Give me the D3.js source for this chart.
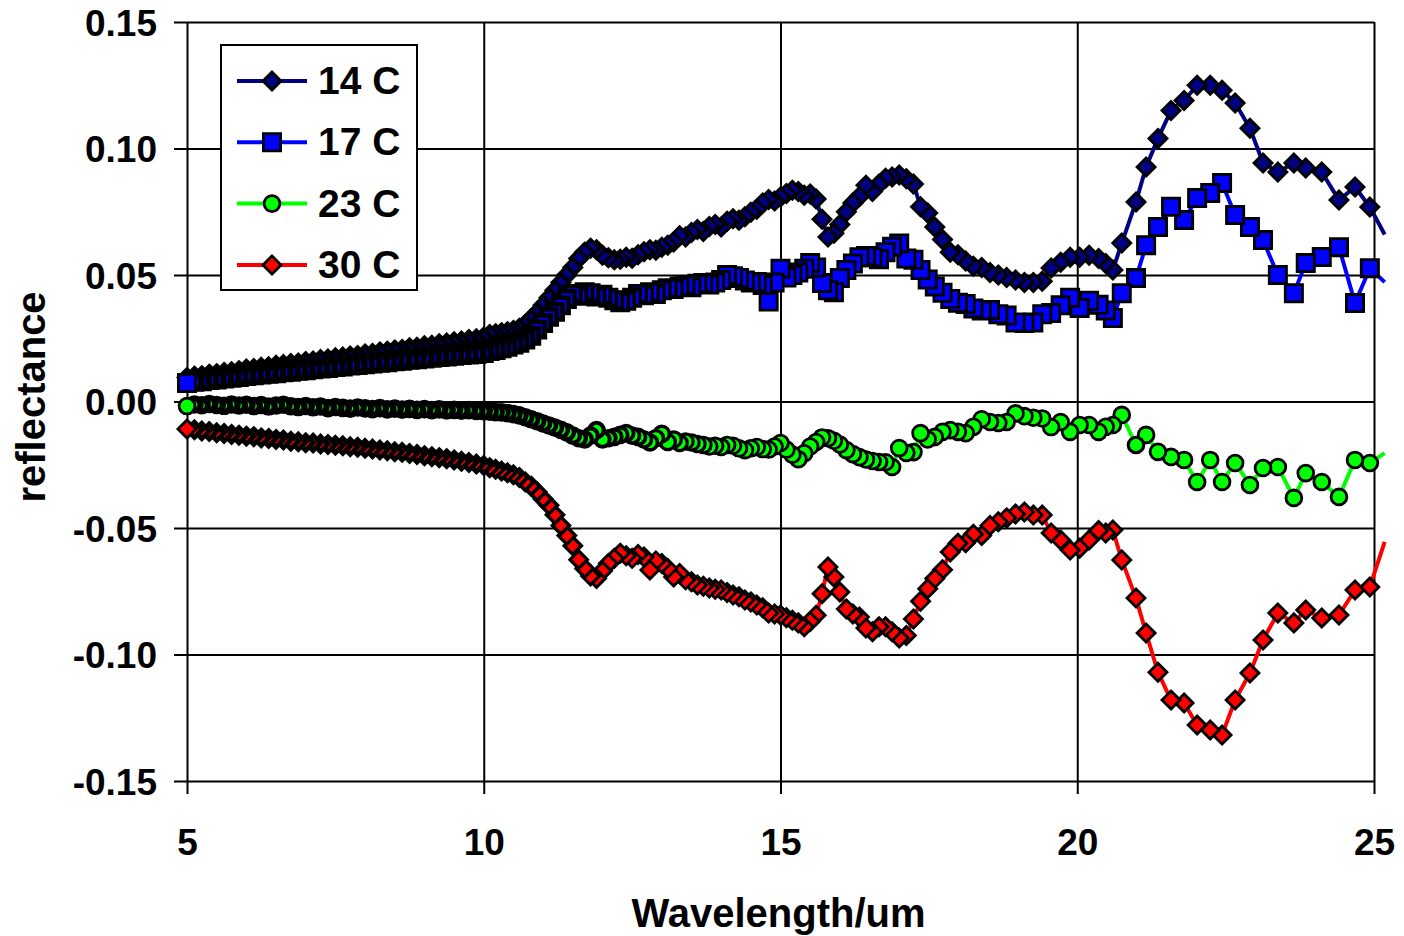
<!DOCTYPE html>
<html>
<head>
<meta charset="utf-8">
<script src="https://cdn.jsdelivr.net/npm/d3@7"></script>
<style>
  body { margin: 0; background: #fff; }
  text { font-family: "Liberation Sans", Arial, sans-serif; font-weight: bold; }
</style>
</head>
<body>
<div id="chart"></div>
<script>
// wavelength grid (um), shared by all four spectra
const wavelength = [
  5, 5.125, 5.25, 5.375, 5.5, 5.625, 5.75, 5.875, 6,
  6.125, 6.25, 6.375, 6.5, 6.625, 6.75, 6.875, 7,
  7.125, 7.25, 7.375, 7.5, 7.625, 7.75, 7.875, 8,
  8.125, 8.25, 8.375, 8.5, 8.625, 8.75, 8.875, 9,
  9.125, 9.25, 9.375, 9.5, 9.625, 9.75, 9.875, 10,
  10.1, 10.2, 10.3, 10.4, 10.5, 10.6, 10.7, 10.8, 10.9, 11.0,
  11.1, 11.2, 11.3, 11.4, 11.5, 11.6, 11.7, 11.8, 11.9, 12.0,
  12.1, 12.2, 12.3, 12.4, 12.5, 12.6, 12.7, 12.8, 12.9, 13.0,
  13.1, 13.2, 13.3, 13.4, 13.5, 13.6, 13.7, 13.8, 13.9, 14.0,
  14.1, 14.2, 14.3, 14.4, 14.5, 14.6, 14.7, 14.8, 14.9, 15.0,
  15.1, 15.2, 15.3, 15.4, 15.5, 15.6, 15.7, 15.8, 15.9, 16.0,
  16.11, 16.22, 16.33, 16.44, 16.55, 16.66, 16.77, 16.88, 17.0,
  17.12, 17.24, 17.36, 17.48, 17.6, 17.73, 17.86, 17.99, 18.12, 18.25,
  18.39, 18.53, 18.67, 18.81, 18.96, 19.11, 19.26, 19.41, 19.56,
  19.72, 19.88, 20.04, 20.2, 20.36, 20.48,
  20.6, 20.75, 20.99, 21.16, 21.36, 21.58, 21.8, 22.02, 22.24, 22.44,
  22.66, 22.91, 23.13, 23.38, 23.65, 23.85, 24.12, 24.41, 24.68, 24.93, 25.18
];

const r14 = [
  0.0095, 0.0100, 0.0102, 0.0108, 0.0110, 0.0115, 0.0118, 0.0122, 0.0128,
  0.0130, 0.0135, 0.0137, 0.0143, 0.0146, 0.0150, 0.0152, 0.0158,
  0.0160, 0.0166, 0.0168, 0.0173, 0.0176, 0.0180, 0.0182, 0.0188,
  0.0190, 0.0196, 0.0199, 0.0204, 0.0206, 0.0212, 0.0214, 0.0220,
  0.0222, 0.0228, 0.0231, 0.0236, 0.0239, 0.0245, 0.0248, 0.0255,
  0.0265, 0.0268, 0.0272, 0.0276, 0.0281, 0.0290, 0.0305, 0.0328, 0.0352, 0.0380,
  0.0410, 0.0440, 0.0470, 0.0500, 0.0530, 0.0565, 0.0590, 0.0606, 0.0600, 0.0578,
  0.0568, 0.0560, 0.0562, 0.0570, 0.0566, 0.0580, 0.0592, 0.0600, 0.0598, 0.0610,
  0.0618, 0.0630, 0.0655, 0.0650, 0.0668, 0.0680, 0.0672, 0.0692, 0.0700, 0.0690,
  0.0712, 0.0722, 0.0716, 0.0730, 0.0748, 0.0760, 0.0785, 0.0798, 0.0792, 0.0808,
  0.0822, 0.0835, 0.0830, 0.0815, 0.0820, 0.0800, 0.0720, 0.0650, 0.0665, 0.0700,
  0.0750, 0.0785, 0.0810, 0.0855, 0.0830, 0.0860, 0.0882, 0.0887, 0.0895,
  0.0880, 0.0860, 0.0770, 0.0745, 0.0690, 0.0640, 0.0590, 0.0580, 0.0555, 0.0535,
  0.0530, 0.0510, 0.0500, 0.0490, 0.0480, 0.0470, 0.0470, 0.0475, 0.0528,
  0.0550, 0.0570, 0.0570, 0.0578, 0.0565, 0.0545,
  0.0520, 0.0626, 0.0789, 0.0927, 0.1040, 0.1150, 0.1190, 0.1250, 0.1250, 0.1230,
  0.1180, 0.1080, 0.0943, 0.0907, 0.0943, 0.0923, 0.0907, 0.0796, 0.0848, 0.0769, 0.0660
];

const r17 = [
  0.0073, 0.0078, 0.0080, 0.0085, 0.0087, 0.0091, 0.0094, 0.0097, 0.0101,
  0.0104, 0.0107, 0.0110, 0.0112, 0.0116, 0.0118, 0.0122, 0.0124,
  0.0127, 0.0130, 0.0132, 0.0136, 0.0138, 0.0142, 0.0144, 0.0147,
  0.0150, 0.0153, 0.0155, 0.0159, 0.0161, 0.0165, 0.0167, 0.0170,
  0.0173, 0.0176, 0.0178, 0.0181, 0.0184, 0.0186, 0.0188, 0.0192,
  0.0200, 0.0204, 0.0210, 0.0216, 0.0225, 0.0232, 0.0245, 0.0260, 0.0285, 0.0310,
  0.0335, 0.0355, 0.0380, 0.0405, 0.0425, 0.0418, 0.0432, 0.0428, 0.0415, 0.0422,
  0.0410, 0.0400, 0.0392, 0.0398, 0.0410, 0.0425, 0.0420, 0.0432, 0.0425, 0.0440,
  0.0448, 0.0445, 0.0455, 0.0460, 0.0452, 0.0465, 0.0468, 0.0462, 0.0470, 0.0480,
  0.0500, 0.0495, 0.0488, 0.0478, 0.0470, 0.0472, 0.0460, 0.0395, 0.0470, 0.0525,
  0.0490, 0.0500, 0.0510, 0.0525, 0.0547, 0.0530, 0.0468, 0.0440, 0.0432, 0.0488,
  0.0520, 0.0545, 0.0570, 0.0575, 0.0570, 0.0562, 0.0590, 0.0612, 0.0625,
  0.0565, 0.0560, 0.0520, 0.0482, 0.0455, 0.0430, 0.0405, 0.0390, 0.0385, 0.0368,
  0.0360, 0.0362, 0.0345, 0.0340, 0.0312, 0.0310, 0.0312, 0.0345, 0.0350,
  0.0380, 0.0410, 0.0370, 0.0398, 0.0382, 0.0360,
  0.0330, 0.0428, 0.0488, 0.0618, 0.0690, 0.0770, 0.0717, 0.0804, 0.0824, 0.0864,
  0.0737, 0.0690, 0.0638, 0.0500, 0.0428, 0.0547, 0.0571, 0.0610, 0.0389, 0.0527, 0.0472
];

const r23 = [
  -0.0018, -0.0012, -0.0015, -0.0010, -0.0014, -0.0017, -0.0012, -0.0016, -0.0013,
  -0.0018, -0.0014, -0.0020, -0.0016, -0.0013, -0.0019, -0.0022, -0.0018,
  -0.0023, -0.0020, -0.0026, -0.0022, -0.0025, -0.0028, -0.0024, -0.0027,
  -0.0030, -0.0026, -0.0031, -0.0028, -0.0032, -0.0029, -0.0033, -0.0030,
  -0.0034, -0.0031, -0.0035, -0.0033, -0.0036, -0.0034, -0.0037, -0.0038,
  -0.0040, -0.0042, -0.0043, -0.0046, -0.0050, -0.0055, -0.0062, -0.0070, -0.0078, -0.0087,
  -0.0095, -0.0103, -0.0112, -0.0122, -0.0135, -0.0145, -0.0150, -0.0135, -0.0113, -0.0150,
  -0.0145, -0.0140, -0.0132, -0.0125, -0.0135, -0.0140, -0.0150, -0.0162, -0.0145, -0.0128,
  -0.0160, -0.0150, -0.0164, -0.0158, -0.0162, -0.0168, -0.0172, -0.0178, -0.0175, -0.0180,
  -0.0172, -0.0175, -0.0185, -0.0192, -0.0185, -0.0180, -0.0188, -0.0190, -0.0178, -0.0164,
  -0.0190, -0.0210, -0.0228, -0.0205, -0.0178, -0.0160, -0.0142, -0.0145, -0.0155, -0.0170,
  -0.0192, -0.0208, -0.0220, -0.0229, -0.0235, -0.0239, -0.0240, -0.0259, -0.0184,
  -0.0203, -0.0200, -0.0125, -0.0150, -0.0140, -0.0120, -0.0113, -0.0120, -0.0125, -0.0100,
  -0.0070, -0.0081, -0.0085, -0.0081, -0.0047, -0.0058, -0.0064, -0.0067, -0.0101,
  -0.0081, -0.0120, -0.0093, -0.0093, -0.0120, -0.0100,
  -0.0093, -0.0053, -0.0172, -0.0132, -0.0199, -0.0219, -0.0231, -0.0318, -0.0231, -0.0318,
  -0.0243, -0.0330, -0.0263, -0.0259, -0.0381, -0.0283, -0.0318, -0.0377, -0.0231, -0.0243, -0.0204
];

const r30 = [
  -0.0109, -0.0112, -0.0117, -0.0119, -0.0124, -0.0126, -0.0130, -0.0133, -0.0137,
  -0.0139, -0.0144, -0.0146, -0.0150, -0.0152, -0.0157, -0.0159, -0.0163,
  -0.0164, -0.0168, -0.0170, -0.0173, -0.0175, -0.0179, -0.0181, -0.0185,
  -0.0188, -0.0192, -0.0195, -0.0199, -0.0201, -0.0206, -0.0209, -0.0214,
  -0.0218, -0.0222, -0.0226, -0.0231, -0.0236, -0.0241, -0.0247, -0.0253,
  -0.0262, -0.0268, -0.0275, -0.0282, -0.0290, -0.0300, -0.0318, -0.0335, -0.0358, -0.0385,
  -0.0410, -0.0448, -0.0490, -0.0530, -0.0570, -0.0625, -0.0660, -0.0690, -0.0700, -0.0670,
  -0.0640, -0.0620, -0.0600, -0.0610, -0.0620, -0.0605, -0.0615, -0.0666, -0.0630, -0.0640,
  -0.0660, -0.0694, -0.0680, -0.0705, -0.0712, -0.0725, -0.0730, -0.0737, -0.0742, -0.0745,
  -0.0755, -0.0765, -0.0772, -0.0785, -0.0792, -0.0804, -0.0815, -0.0836, -0.0840, -0.0844,
  -0.0855, -0.0865, -0.0875, -0.0890, -0.0870, -0.0845, -0.0760, -0.0654, -0.0694, -0.0753,
  -0.0820, -0.0840, -0.0852, -0.0895, -0.0910, -0.0890, -0.0890, -0.0910, -0.0935,
  -0.0925, -0.0860, -0.0790, -0.0740, -0.0700, -0.0665, -0.0595, -0.0560, -0.0558, -0.0525,
  -0.0530, -0.0490, -0.0475, -0.0460, -0.0445, -0.0437, -0.0449, -0.0449, -0.0520,
  -0.0547, -0.0587, -0.0580, -0.0547, -0.0510, -0.0520,
  -0.0508, -0.0626, -0.0777, -0.0915, -0.1070, -0.1180, -0.1192, -0.1279, -0.1298, -0.1318,
  -0.1180, -0.1073, -0.0943, -0.0836, -0.0875, -0.0824, -0.0856, -0.0844, -0.0745, -0.0733, -0.0555
];

const seriesNames = ["14 C", "17 C", "23 C", "30 C"];
const seriesColors = ["#000080", "#0000ff", "#00ff00", "#ff0000"];
const seriesShapes = ["diamond", "square", "circle", "diamond"];
const seriesValues = [r14, r17, r23, r30];

const xTicks = [5, 10, 15, 20, 25];
const yTicks = [-0.15, -0.10, -0.05, 0.00, 0.05, 0.10, 0.15];

const width = 1404, height = 936;
const plot = { left: 187, right: 1374, top: 22, bottom: 781 };
const baseOutline = 2.8;

const x = d3.scaleLinear().domain([5, 25]).range([plot.left, plot.right]);
const y = d3.scaleLinear().domain([-0.15, 0.15]).range([plot.bottom, plot.top]);

const svg = d3.select("#chart")
  .append("svg")
    .attr("width", width)
    .attr("height", height)
    .style("background-color", "#fff");

// gridlines (they also make the frame)
svg.append("g")
  .attr("transform", "translate(" + plot.left + ",0)")
  .call(d3.axisLeft(y).tickValues(yTicks).tickSize(-(plot.right - plot.left)).tickFormat(""))
  .call(function(g) { g.select(".domain").remove(); })
  .selectAll("line").attr("stroke", "#000").attr("stroke-width", 2);

svg.append("g")
  .attr("transform", "translate(0," + plot.bottom + ")")
  .call(d3.axisBottom(x).tickValues(xTicks).tickSize(-(plot.bottom - plot.top)).tickFormat(""))
  .call(function(g) { g.select(".domain").remove(); })
  .selectAll("line").attr("stroke", "#000").attr("stroke-width", 2);

// axes with outward ticks and labels
const yAxis = svg.append("g")
  .attr("transform", "translate(" + plot.left + ",0)")
  .call(d3.axisLeft(y).tickValues(yTicks).tickSize(13).tickPadding(17)
    .tickFormat(function(d) { return d.toFixed(2); }));
yAxis.select(".domain").remove();
yAxis.selectAll("line").attr("stroke", "#000").attr("stroke-width", 2);
yAxis.selectAll("text")
  .attr("font-size", 37)
  .attr("font-family", "'Liberation Sans', Arial, sans-serif")
  .attr("dy", "0.36em")
  .attr("fill", "#000");

const xAxis = svg.append("g")
  .attr("transform", "translate(0," + plot.bottom + ")")
  .call(d3.axisBottom(x).tickValues(xTicks).tickSize(13).tickPadding(35));
xAxis.select(".domain").remove();
xAxis.selectAll("line").attr("stroke", "#000").attr("stroke-width", 2);
xAxis.selectAll("text")
  .attr("font-size", 37)
  .attr("font-family", "'Liberation Sans', Arial, sans-serif")
  .attr("fill", "#000");

svg.append("text")
  .attr("x", (plot.left + plot.right) / 2 - 2)
  .attr("y", 927)
  .attr("text-anchor", "middle")
  .attr("font-size", 40)
  .text("Wavelength/um");

svg.append("text")
  .attr("transform", "translate(45,397) rotate(-90)")
  .attr("text-anchor", "middle")
  .attr("font-size", 40)
  .text("reflectance");

// marker shapes; size is the outer extent including the outline
function markerPath(shape, sw) {
  if (shape === "diamond") {
    const r = 11 - 0.707 * sw;
    return "M0," + (-r) + "L" + r + ",0L0," + r + "L" + (-r) + ",0Z";
  }
  if (shape === "square") {
    const h = 10 - sw / 2;
    return "M" + (-h) + "," + (-h) + "H" + h + "V" + h + "H" + (-h) + "Z";
  }
  const c = 9.3 - sw / 2;
  return "M" + (-c) + ",0A" + c + "," + c + " 0 1,0 " + c + ",0A" + c + "," + c + " 0 1,0 " + (-c) + ",0Z";
}

// the real spectra are sampled far denser than the typed grid at short
// wavelengths, so the overlapped markers there read as mostly outline
function outlineWidth(pts, i, shape) {
  if (i === 0) return baseOutline;
  const gap = x(pts[i].w) - x(pts[i - 1].w);
  const sampleGap = 0.0267 * pts[i].w * pts[i].w;
  let sw = Math.min(6.5, Math.max(baseOutline, gap * Math.min(0.85, 2.6 / sampleGap)));
  if (shape === "diamond") sw = Math.max(baseOutline, sw * 0.75);
  return sw;
}

const line = d3.line()
  .x(function(d) { return x(d.w); })
  .y(function(d) { return y(d.v); });

seriesValues.forEach(function(values, k) {
  const pts = wavelength.map(function(w, i) { return { w: w, v: values[i] }; });
  const g = svg.append("g");

  g.append("path")
    .datum(pts)
    .attr("d", line)
    .attr("fill", "none")
    .attr("stroke", seriesColors[k])
    .attr("stroke-width", 4)
    .attr("stroke-linejoin", "round");

  const marks = pts
    .map(function(d, i) { return { w: d.w, v: d.v, sw: outlineWidth(pts, i, seriesShapes[k]) }; })
    .filter(function(d) { return d.w <= 25; })
    .reverse();

  g.selectAll("path.mark")
    .data(marks).enter()
    .append("path")
      .attr("class", "mark")
      .attr("transform", function(d) { return "translate(" + x(d.w) + "," + y(d.v) + ")"; })
      .attr("d", function(d) { return markerPath(seriesShapes[k], d.sw); })
      .attr("fill", seriesColors[k])
      .attr("stroke", "#000")
      .attr("stroke-width", function(d) { return d.sw; })
      .attr("stroke-linejoin", "miter");
});

// legend
const legend = svg.append("g");
legend.append("rect")
  .attr("x", 221).attr("y", 45)
  .attr("width", 196).attr("height", 245)
  .attr("fill", "#fff")
  .attr("stroke", "#000")
  .attr("stroke-width", 2);

const entries = legend.selectAll("g.entry")
  .data(seriesNames).enter()
  .append("g")
    .attr("class", "entry")
    .attr("transform", function(d, i) { return "translate(0," + (81 + i * 61.3) + ")"; });

entries.append("line")
  .attr("x1", 237).attr("x2", 307)
  .attr("stroke", function(d, i) { return seriesColors[i]; })
  .attr("stroke-width", 4);

entries.append("path")
  .attr("transform", "translate(272,0)")
  .attr("d", function(d, i) { return markerPath(seriesShapes[i], baseOutline); })
  .attr("fill", function(d, i) { return seriesColors[i]; })
  .attr("stroke", "#000")
  .attr("stroke-width", baseOutline);

entries.append("text")
  .attr("x", 318)
  .attr("y", 13)
  .attr("font-size", 39)
  .text(function(d) { return d; });
</script>
</body>
</html>
